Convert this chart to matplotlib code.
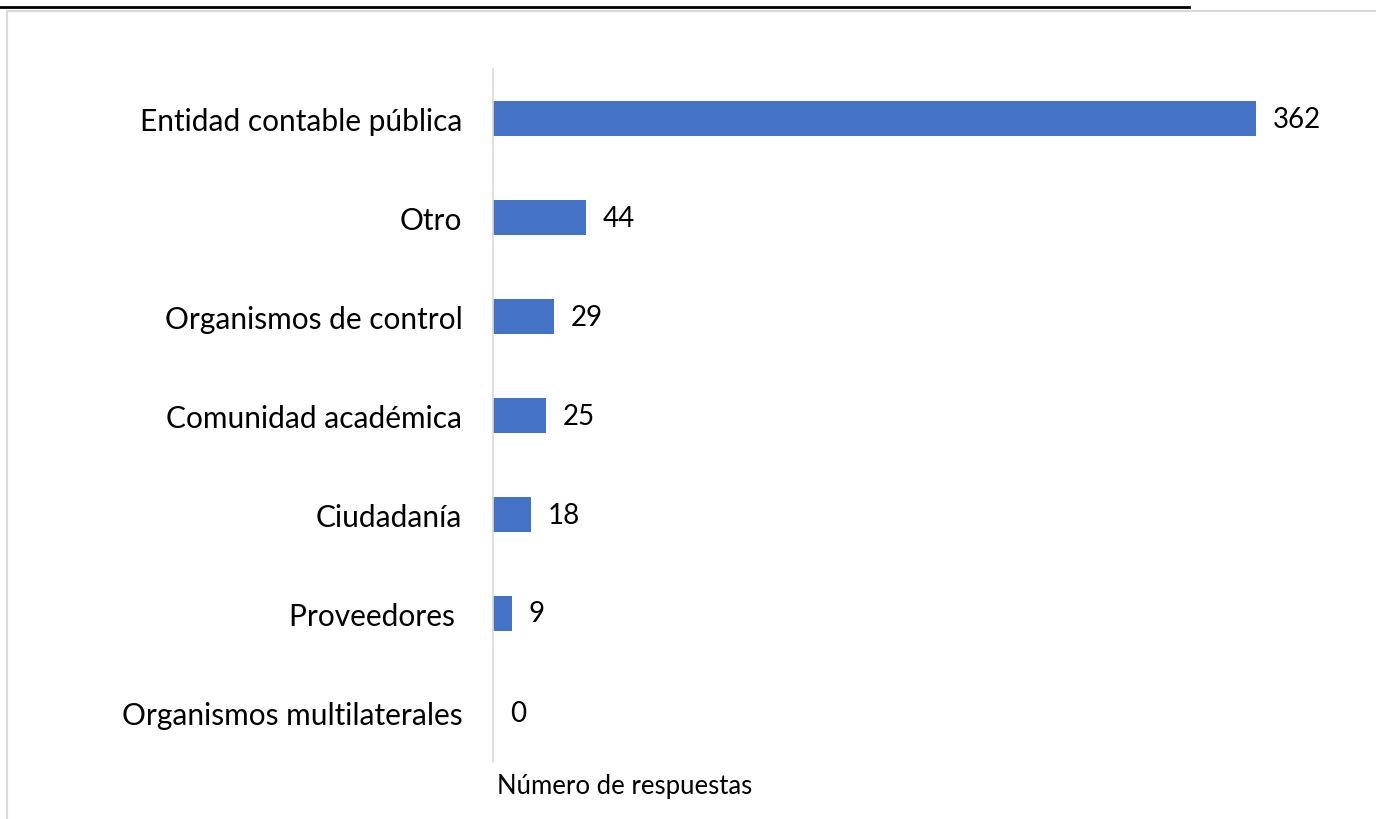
import matplotlib
matplotlib.use('Agg')
import matplotlib.pyplot as plt
from matplotlib.lines import Line2D
from matplotlib.patches import Rectangle

# Datos del gráfico
categorias = ['Entidad contable pública', 'Otro', 'Organismos de control',
              'Comunidad académica', 'Ciudadanía', 'Proveedores ',
              'Organismos multilaterales']
respuestas = [362, 44, 29, 25, 18, 9, 0]
etiqueta_x = 'Número de respuestas'

plt.rcParams['font.family'] = ['Lato', 'DejaVu Sans']

W, H = 1376, 820
fig = plt.figure(figsize=(W / 100, H / 100), dpi=100)

ax = fig.add_axes([493 / W, 1 - 763 / H, (1336 - 493) / W, (763 - 70) / H])
pos = list(range(len(categorias)))[::-1]
ax.barh(pos, respuestas, height=0.35, color='#4472C4')
ax.set_xlim(0, 400)
ax.set_ylim(-0.5, len(categorias) - 0.5)
ax.set_yticks(pos)
ax.set_yticklabels(categorias, fontsize=21.5)
ax.tick_params(axis='y', length=0, pad=22)
ax.set_xticks([])
for s in ['top', 'right', 'bottom']:
    ax.spines[s].set_visible(False)
ax.spines['left'].set_color('#D9D9D9')
ax.spines['left'].set_linewidth(1.2)

for p, v in zip(pos, respuestas):
    ax.annotate(str(v), (v, p), xytext=(12, 0), textcoords='offset points',
                va='center', ha='left', fontsize=20)

fig.text(497 / W, 1 - 787 / H, etiqueta_x, fontsize=18.5, ha='left', va='center')

# bordes de la imagen
fig.add_artist(Rectangle((7 / W, -0.1), 1.2, (1 - 12 / H) + 0.1,
                         transform=fig.transFigure, fill=False,
                         edgecolor='#D9D9D9', linewidth=1.5))
fig.add_artist(Line2D([0, 1189 / W], [1 - 8 / H, 1 - 8 / H],
                      transform=fig.transFigure, color='black', linewidth=2))

fig.savefig('out.png', dpi=100)
